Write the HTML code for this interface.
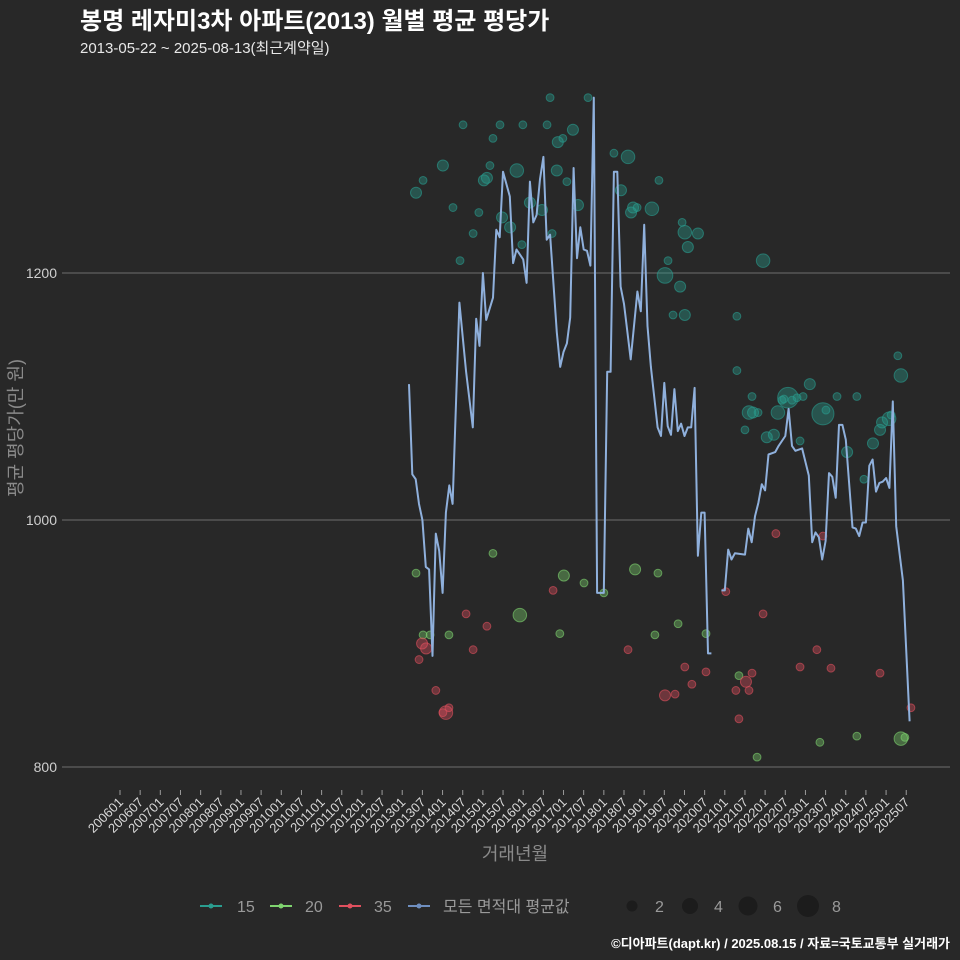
<!DOCTYPE html>
<html><head><meta charset="utf-8"><style>
html,body{margin:0;padding:0;background:#282828;}
svg{display:block;font-family:"Liberation Sans","Noto Sans CJK KR",sans-serif;}
</style></head><body>
<svg id="chart" width="960" height="960" viewBox="0 0 960 960" xmlns="http://www.w3.org/2000/svg">
<rect width="960" height="960" fill="#282828"/>
<text x="80" y="29" fill="#ffffff" font-size="24" font-weight="bold">봉명 레자미3차 아파트(2013) 월별 평균 평당가</text>
<text x="80" y="53" fill="#e8e8e8" font-size="15">2013-05-22 ~ 2025-08-13(최근계약일)</text>
<g id="grid"></g>
<g id="yticks"></g>
<g id="xticks"></g>
<text transform="translate(22,428) rotate(-90)" text-anchor="middle" fill="#8a8a8a" font-size="18">평균 평당가(만 원)</text>
<text x="515" y="860" text-anchor="middle" fill="#8a8a8a" font-size="18">거래년월</text>
<g id="dots"></g>
<g id="line"></g>
<g id="legend">
 <g><line x1="200" y1="906" x2="222" y2="906" stroke="#2a9d8f" stroke-width="2"/><circle cx="211" cy="906" r="2.5" fill="#2a9d8f"/><text x="237" y="912" fill="#9a9a9a" font-size="16">15</text></g>
 <g><line x1="270" y1="906" x2="292" y2="906" stroke="#7fd46f" stroke-width="2"/><circle cx="281" cy="906" r="2.5" fill="#7fd46f"/><text x="305" y="912" fill="#9a9a9a" font-size="16">20</text></g>
 <g><line x1="339" y1="906" x2="361" y2="906" stroke="#e0505e" stroke-width="2"/><circle cx="350" cy="906" r="2.5" fill="#e0505e"/><text x="374" y="912" fill="#9a9a9a" font-size="16">35</text></g>
 <g><line x1="408" y1="906" x2="430" y2="906" stroke="#6f8fc0" stroke-width="2"/><circle cx="419" cy="906" r="2.5" fill="#6f8fc0"/><text x="443" y="912" fill="#9a9a9a" font-size="16">모든 면적대 평균값</text></g>
 <g><circle cx="632" cy="906" r="5.5" fill="#1c1c1c"/><text x="655" y="912" fill="#9a9a9a" font-size="16">2</text></g>
 <g><circle cx="690" cy="906" r="8" fill="#1c1c1c"/><text x="714" y="912" fill="#9a9a9a" font-size="16">4</text></g>
 <g><circle cx="748" cy="906" r="9.5" fill="#1c1c1c"/><text x="773" y="912" fill="#9a9a9a" font-size="16">6</text></g>
 <g><circle cx="808" cy="906" r="11" fill="#1c1c1c"/><text x="832" y="912" fill="#9a9a9a" font-size="16">8</text></g>
</g>
<text x="950" y="948" text-anchor="end" fill="#ffffff" font-size="13" font-weight="bold">©디아파트(dapt.kr) / 2025.08.15 / 자료=국토교통부 실거래가</text>
</svg>
<script>
// months are offsets from 2006-01
const yTicks = [800, 1000, 1200];
const lineMonths = [86,87,88,89,90,91,92,93,94,95,96,97,98,99,101,103,105,106,107,108,109,111,112,113,114,116,117,118,120,121,122,123,124,125,126,127,128,130,131,132,133,134,135,136,137,138,139,140,141,142,144,145,146,147,148,149,150,152,154,155,156,157,158,160,161,162,163,164,165,166,167,168,169,170,171,172,173,174,175,176,null,179,180,181,182,183,186,187,188,189,190,191,192,193,195,196,198,199,200,201,203,205,206,207,208,209,210,211,212,213,214,215,216,218,219,220,221,222,223,224,225,226,227,228,229,230,231,233,235];
const lineValues = [1110,1037,1033,1013,1000,962,960,890,989,975,941,1006,1028,1013,1176,1120,1075,1163,1141,1200,1162,1180,1235,1229,1282,1262,1208,1219,1211,1192,1274,1241,1247,1276,1294,1227,1231,1152,1124,1136,1143,1164,1285,1212,1237,1219,1218,1206,1342,941,941,1120,1120,1282,1282,1189,1175,1130,1185,1169,1239,1157,1124,1075,1068,1111,1076,1069,1106,1072,1078,1068,1075,1075,1107,971,1006,1006,892,892,null,943,943,976,968,973,972,993,982,1003,1014,1029,1024,1053,1055,1060,1068,1090,1060,1056,1058,1036,982,990,986,968,983,1038,1035,1018,1077,1077,1065,994,993,987,998,998,1044,1049,1023,1030,1031,1034,1026,1096,995,951,837];
const s15Months = [88.1,90.2,96.1,99.1,101.2,102.1,105.1,106.8,108.3,109.2,110.1,111,113.1,113.7,116.1,118.1,119.6,119.9,122,125.6,127.1,128,128.6,130,130.3,131.8,133,134.8,136.3,139.3,147,149.1,151.2,152.1,152.7,153.9,158.3,160.4,162.2,163.1,166.7,167.3,168.1,169,164.6,168.1,172,183.6,183.6,186,187.2,188.1,188.4,189.9,191.4,192.5,194.6,195.8,197,197.6,198.8,200,201.5,202.4,203.3,205.3,209.2,210.1,213.4,216.4,219.3,221.4,224.1,226.2,226.8,228.9,229.5,231.5,232.4];
const s15Values = [1265,1275,1287,1253,1210,1320,1232,1249,1275,1277,1287,1309,1320,1245,1237,1283,1223,1320,1257,1251,1320,1342,1232,1283,1306,1309,1274,1316,1255,1342,1297,1267,1294,1249,1253,1253,1252,1275,1198,1210,1189,1241,1233,1221,1166,1166,1232,1165,1121,1073,1087,1100,1087,1087,1210,1067,1069,1087,1097,1098,1099,1097,1099,1064,1100,1110,1086,1089,1100,1055,1100,1033,1062,1073,1079,1082,1085,1133,1117];
const s15Counts = [2,1,2,1,1,1,1,1,2,2,1,1,1,2,2,3,1,1,2,2,1,1,1,2,2,1,1,2,2,1,1,2,3,2,2,1,3,1,4,1,2,1,3,2,1,2,2,1,1,1,3,1,2,1,3,2,2,3,1,1,7,1,1,1,1,2,8,1,1,2,1,1,2,2,2,3,1,1,3];
const s20Months = [88.1,90.2,92.3,97.9,111,119,130.9,132.1,138.1,144,153.3,160.1,159.2,166.1,174.4,184.2,189.6,208.3,219.3,232.4,233.6];
const s20Values = [957,907,907,907,973,923,908,955,949,941,960,957,907,916,908,874,808,820,825,823,824];
const s20Counts = [1,1,1,1,1,3,1,2,1,1,2,1,1,1,1,1,1,1,1,3,1];
const s35Months = [89,89.9,91.1,94,96.1,97,97.9,103,105.1,109.2,128.9,151.2,162.2,165.2,168.1,170.2,174.4,180.3,183.3,184.2,186.3,187.2,188.1,191.4,195.2,202.4,207.4,209.2,211.6,226.2,235.4];
const s35Values = [887,900,896,862,844,844,848,924,895,914,943,895,858,859,881,867,877,942,862,839,869,862,876,924,989,881,895,987,880,876,848];
const s35Counts = [1,2,2,1,1,3,1,1,1,1,1,1,2,1,1,1,1,1,1,1,2,1,1,1,1,1,1,1,1,1,1];

const NS = 'http://www.w3.org/2000/svg';
function xScale(m){ return 120 + m * 3.36; }
function yScale(v){ return 520 - (v - 1000) * 1.235; }
function rScale(n){ return 3.9 * Math.sqrt(n); }
function mk(tag){ return document.createElementNS(NS, tag); }

const grid = document.getElementById('grid');
const yAxis = document.getElementById('yticks');
yTicks.forEach(v => {
  const l = mk('line');
  
  
  l.setAttribute('x1', 62); l.setAttribute('x2', 950);
  l.setAttribute('y1', yScale(v)); l.setAttribute('y2', yScale(v));
  l.setAttribute('stroke', '#6e6e6e'); l.setAttribute('stroke-width', '1');
  grid.appendChild(l);
  const t = mk('text');
  
  
  t.setAttribute('x', 57); t.setAttribute('y', yScale(v) + 5);
  t.setAttribute('text-anchor', 'end'); t.setAttribute('fill', '#cfcfcf'); t.setAttribute('font-size', '14');
  t.textContent = v;
  yAxis.appendChild(t);
});

const xAxis = document.getElementById('xticks');
for (let m = 0; m <= 234; m += 6) {
  const x = xScale(m);
  const tk = mk('line');
  
  
  tk.setAttribute('x1', x); tk.setAttribute('x2', x);
  tk.setAttribute('y1', 790); tk.setAttribute('y2', 795);
  tk.setAttribute('stroke', '#9a9a9a');
  xAxis.appendChild(tk);
  const yr = 2006 + Math.floor(m / 12), mo = m % 12 + 1;
  const t = mk('text');
  
  
  t.setAttribute('transform', 'translate(' + (x + 4) + ',803) rotate(-45)');
  t.setAttribute('text-anchor', 'end'); t.setAttribute('fill', '#d8d8d8'); t.setAttribute('font-size', '13');
  t.textContent = yr + (mo < 10 ? '0' : '') + mo;
  xAxis.appendChild(t);
}

const dots = document.getElementById('dots');
function drawSeries(months, values, counts, fill, stroke, name) {
  months.forEach((m, i) => {
    const c = mk('circle');
    
    
    c.setAttribute('cx', xScale(m)); c.setAttribute('cy', yScale(values[i]));
    c.setAttribute('r', rScale(counts[i]));
    c.setAttribute('fill', fill); c.setAttribute('stroke', stroke); c.setAttribute('stroke-width', '1');
    dots.appendChild(c);
  });
}
drawSeries(s15Months, s15Values, s15Counts, 'rgba(42,157,143,0.38)', 'rgba(42,157,143,0.6)', 'point-15');
drawSeries(s20Months, s20Values, s20Counts, 'rgba(127,212,111,0.38)', 'rgba(127,212,111,0.6)', 'point-20');
drawSeries(s35Months, s35Values, s35Counts, 'rgba(224,80,94,0.38)', 'rgba(224,80,94,0.6)', 'point-35');

const lineG = document.getElementById('line');
let d = '', pen = false;
lineMonths.forEach((m, i) => {
  if (m === null || lineValues[i] === null) { pen = false; return; }
  d += (pen ? 'L' : 'M') + xScale(m).toFixed(1) + ',' + yScale(lineValues[i]).toFixed(1);
  pen = true;
});
const p = mk('path');


p.setAttribute('d', d); p.setAttribute('fill', 'none');
p.setAttribute('stroke', '#8fb0dc'); p.setAttribute('stroke-width', '2'); p.setAttribute('stroke-linejoin', 'round');
lineG.appendChild(p);
</script>
</body></html>
